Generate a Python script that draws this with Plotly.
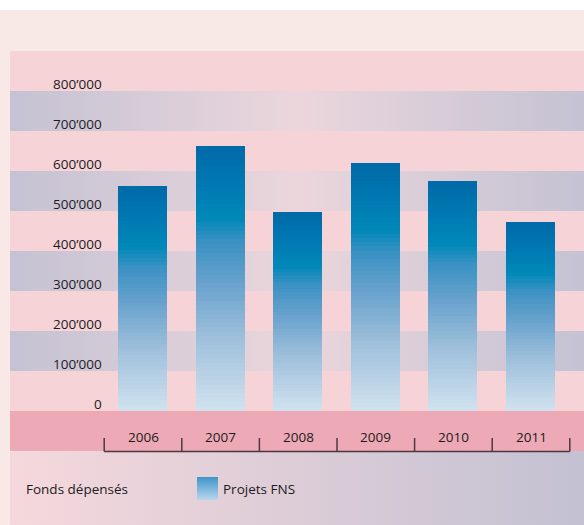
import plotly.graph_objects as go
from plotly.colors import sample_colorscale

# data
years = ["2006", "2007", "2008", "2009", "2010", "2011"]
projets_fns = [560000, 660000, 495000, 617000, 572000, 470000]
y_ticks = [0, 100000, 200000, 300000, 400000, 500000, 600000, 700000, 800000]
y_tick_labels = ["0", "100’000", "200’000", "300’000", "400’000",
                 "500’000", "600’000", "700’000", "800’000"]
legend_title = "Fonds dépensés"
series_name = "Projets FNS"

W, H = 584, 525
FONT = "Open Sans, sans-serif"
INK = "#1d1b1c"

# pixel geometry of the reference image
X0_PX, X_STEP = 143, 77.6       # centre of first category, px per category
Y0_PX, Y_STEP = 411, 40 / 100000  # zero line, px per unit


def px_x(p):
    return (p - X0_PX) / X_STEP


def px_y(p):
    return (Y0_PX - p) / Y_STEP


x_range = [px_x(0), px_x(W)]
y_range = [px_y(H), px_y(0)]
x_left, x_right = px_x(10), px_x(W)

gray_band = [[0, "#c4c2d3"], [0.5, "#ebd6dc"], [1, "#c4c2d3"]]
bottom_band = [[0, "#f5d8dc"], [1, "#c3c1d2"]]
bar_scale = [[0, "#d0e2ef"], [0.27, "#a0c0dc"], [0.5, "#64a0cc"],
             [0.64, "#3a92c3"], [0.73, "#0088b8"], [0.86, "#0079b2"],
             [1, "#006aa8"]]

fig = go.Figure()

# horizontal gradient bands behind the bars
for lo in y_ticks[1::2]:
    hi = lo + 100000
    fig.add_trace(go.Scatter(
        x=[x_left, x_right, x_right, x_left, x_left], y=[lo, lo, hi, hi, lo],
        fill="toself", mode="none", hoverinfo="skip", showlegend=False,
        fillgradient=dict(type="horizontal", colorscale=gray_band)))

fig.add_trace(go.Scatter(
    x=[x_left, x_right, x_right, x_left, x_left],
    y=[y_range[0], y_range[0], -100000, -100000, y_range[0]],
    fill="toself", mode="none", hoverinfo="skip", showlegend=False,
    fillgradient=dict(type="horizontal", colorscale=bottom_band)))

# legend swatch
fig.add_trace(go.Scatter(
    x=[px_x(197), px_x(218), px_x(218), px_x(197), px_x(197)],
    y=[px_y(500), px_y(500), px_y(477), px_y(477), px_y(500)],
    fill="toself", mode="none", hoverinfo="skip", showlegend=False,
    fillgradient=dict(type="vertical",
                      colorscale=[[0, "#b9d6ed"], [1, "#3f95c8"]])))

# bars: stacked slices give the vertical gradient
N = 60
xs = list(range(len(years)))
for i in range(N):
    color = sample_colorscale(bar_scale, [(i + 0.5) / N])[0]
    fig.add_trace(go.Bar(
        x=xs, y=[v / N for v in projets_fns], xaxis="x2", yaxis="y2",
        width=0.62, marker=dict(color=color, line=dict(color=color, width=1)),
        name=series_name, showlegend=False, hoverinfo="skip"))

shapes = [
    dict(type="rect", xref="paper", yref="paper", x0=0, x1=1, y0=1 - 10 / H, y1=1,
         fillcolor="white", line_width=0, layer="below"),
    dict(type="rect", xref="paper", yref="y", x0=10 / W, x1=1, y0=0, y1=900000,
         fillcolor="#f5d3d7", line_width=0, layer="below"),
    dict(type="rect", xref="paper", yref="y", x0=10 / W, x1=1, y0=-100000, y1=0,
         fillcolor="#eda9b5", line_width=0, layer="below"),
    dict(type="line", xref="x", yref="y", x0=-0.5, x1=len(years) - 0.5,
         y0=px_y(451.5), y1=px_y(451.5), line=dict(color="#4a3a40", width=1.5)),
]
for i in range(len(years) + 1):
    shapes.append(dict(type="line", xref="x", yref="y", x0=i - 0.5, x1=i - 0.5,
                       y0=px_y(451.5), y1=px_y(438),
                       line=dict(color="#4a3a40", width=1.5)))

annotations = []
for v, t in zip(y_ticks, y_tick_labels):
    annotations.append(dict(x=px_x(104), y=v, text=t, showarrow=False,
                            xanchor="right", yanchor="bottom", yshift=-4))
for i, yr in enumerate(years):
    annotations.append(dict(x=i, y=px_y(436.5), text=yr, showarrow=False,
                            xanchor="center", yanchor="middle"))
annotations.append(dict(x=px_x(24), y=px_y(489), text=legend_title, showarrow=False,
                        xanchor="left", yanchor="middle"))
annotations.append(dict(x=px_x(221), y=px_y(489), text=series_name, showarrow=False,
                        xanchor="left", yanchor="middle"))

fig.update_layout(
    width=W, height=H, margin=dict(l=0, r=0, t=0, b=0),
    paper_bgcolor="#f9e9e6", plot_bgcolor="rgba(0,0,0,0)",
    barmode="stack", bargap=0, showlegend=False,
    font=dict(family=FONT, size=13.5, color=INK),
    xaxis=dict(range=x_range, visible=False, fixedrange=True),
    yaxis=dict(range=y_range, visible=False, fixedrange=True),
    xaxis2=dict(range=x_range, visible=False, overlaying="x", fixedrange=True),
    yaxis2=dict(range=y_range, visible=False, overlaying="y", fixedrange=True),
    shapes=shapes, annotations=annotations,
)

# page body has an 8px default margin; drop it so the figure sits at 0,0
fig.write_html("out.html", config={"displayModeBar": False},
               post_script="document.body.style.margin='0';")
